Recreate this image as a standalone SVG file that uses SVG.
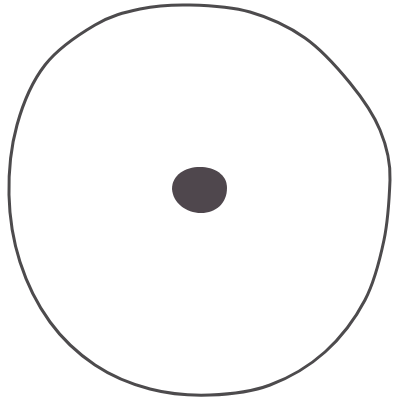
<svg xmlns="http://www.w3.org/2000/svg" width="395" height="398" viewBox="0 0 395 398">
<style>
.ring{fill:none;stroke:#4d4b4d;stroke-width:3;stroke-linejoin:round}
.dot{fill:#4f474d}
</style>
<rect width="395" height="398" fill="#ffffff"/>
<g id="outer-circle">
<path class="ring" d="M190,5 C208.3,5.5 230.8,6.5 250,12 C269.2,17.5 288.3,26.2 305,38 C321.7,49.8 337.5,67.7 350,83 C362.5,98.3 373.3,113.8 380,130 C386.7,146.2 390.7,161.7 390,180 C389.3,198.3 388.2,220 384,240 C379.8,260 374.8,281.3 365,300 C355.2,318.7 340.8,337.8 325,352 C309.2,366.2 289.2,377.8 270,385 C250.8,392.2 230,394.3 210,395 C190,395.7 169.2,394 150,389 C130.8,384 111.7,376.2 95,365 C78.3,353.8 62.5,339.2 50,322 C37.5,304.8 26.8,283.2 20,262 C13.2,240.8 9.5,217.8 9,195 C8.5,172.2 11,146.7 17,125 C23,103.3 32,81.7 45,65 C58,48.3 79.2,34.3 95,25 C110.8,15.7 124.2,12.3 140,9 C155.8,5.7 171.7,4.5 190,5 Z"/>
</g>
<g id="center-dot">
<path class="dot" d="M200,167 C214,167 227,174 227,188 C227,203 216,213 201,213 C186,213 173,203 172,189 C172,175 185,167 200,167 Z"/>
</g>
</svg>
